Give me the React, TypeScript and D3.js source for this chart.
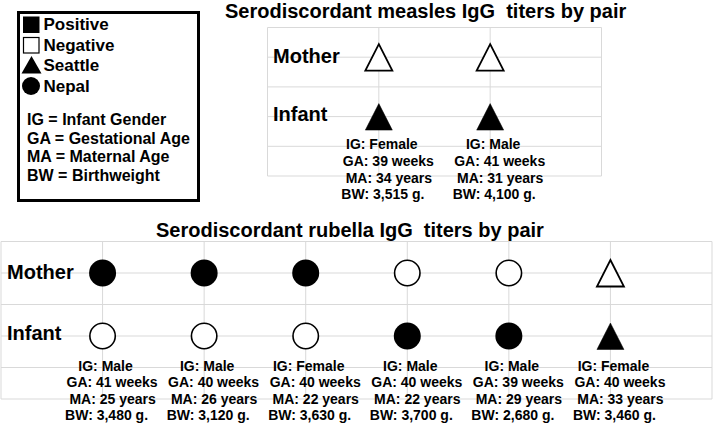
import React from "react";
import * as d3 from "d3";

const rowLabels = ["Mother", "Infant"];

const measlesSite = ["Seattle", "Seattle"];
const measlesMother = ["Negative", "Negative"];
const measlesInfant = ["Positive", "Positive"];
const measlesGender = ["Female", "Male"];
const measlesGA = [39, 41];
const measlesMA = [34, 31];
const measlesBW = ["3,515", "4,100"];

const rubellaSite = ["Nepal", "Nepal", "Nepal", "Nepal", "Nepal", "Seattle"];
const rubellaMother = ["Positive", "Positive", "Positive", "Negative", "Negative", "Negative"];
const rubellaInfant = ["Negative", "Negative", "Negative", "Positive", "Positive", "Positive"];
const rubellaGender = ["Male", "Male", "Female", "Male", "Male", "Female"];
const rubellaGA = [41, 40, 40, 40, 39, 40];
const rubellaMA = [25, 26, 22, 22, 29, 33];
const rubellaBW = ["3,480", "3,120", "3,630", "3,700", "2,680", "3,460"];

const legendSymbols = ["Positive", "Negative", "Seattle", "Nepal"];
const legendAbbrev = ["IG = Infant Gender", "GA = Gestational Age", "MA = Maternal Age", "BW = Birthweight"];

const FONT = "'Liberation Sans', Arial, Helvetica, sans-serif";
const GRID = "#d9d9d9";

function Marker({ site, status, cx, cy }: { site: string; status: string; cx: number; cy: number }) {
  const filled = status === "Positive";
  if (site === "Seattle") {
    const p = d3.path();
    p.moveTo(cx, cy - 13);
    p.lineTo(cx + 13.5, cy + 13.5);
    p.lineTo(cx - 13.5, cy + 13.5);
    p.closePath();
    return (
      <path
        d={p.toString()}
        fill={filled ? "#000" : "#fff"}
        stroke="#000"
        strokeWidth={filled ? 0.5 : 1.8}
        strokeLinejoin="miter"
      />
    );
  }
  return filled ? (
    <circle cx={cx} cy={cy} r={13.5} fill="#000" />
  ) : (
    <circle cx={cx} cy={cy} r={12.7} fill="#fff" stroke="#000" strokeWidth={1.6} />
  );
}

type PanelProps = {
  title: string;
  titleX: number;
  titleY: number;
  left: number;
  right: number;
  top: number;
  bottom: number;
  labelX: number;
  site: string[];
  mother: string[];
  infant: string[];
  gender: string[];
  ga: number[];
  ma: number[];
  bw: string[];
};

const lineOffsets = [3, 9.5, 10, 4];
const rowLabelOffsets = [6, 4];

function Panel(props: PanelProps) {
  const n = props.site.length;
  const x = d3.scaleLinear().domain([0, n + 1]).range([props.left, props.right]);
  const y = d3.scaleLinear().domain([0, 5]).range([props.top, props.bottom]);
  const rowPos = [1, 3];
  const lineGap = 16.6;
  return (
    <g>
      <text x={props.titleX} y={props.titleY} fontFamily={FONT} fontWeight="bold" fontSize={20} fill="#000" style={{ whiteSpace: "pre" }}>
        {props.title}
      </text>
      {d3.range(0, 6).map((i) => (
        <line key={"h" + i} x1={x(0)} x2={x(n + 1)} y1={y(i)} y2={y(i)} stroke={GRID} strokeWidth={1} />
      ))}
      {d3.range(0, n + 2).map((i) => (
        <line key={"v" + i} x1={x(i)} x2={x(i)} y1={y(0)} y2={y(5)} stroke={GRID} strokeWidth={1} />
      ))}
      {rowLabels.map((lab, i) => (
        <text key={lab} x={props.labelX} y={y(rowPos[i]) + rowLabelOffsets[i]} fontFamily={FONT} fontWeight="bold" fontSize={20} fill="#000">
          {lab}
        </text>
      ))}
      {props.site.map((s, i) => (
        <g key={"m" + i}>
          <Marker site={s} status={props.mother[i]} cx={x(i + 1)} cy={y(rowPos[0])} />
          <Marker site={s} status={props.infant[i]} cx={x(i + 1)} cy={y(rowPos[1])} />
          {[
            `IG: ${props.gender[i]}`,
            `GA: ${props.ga[i]} weeks`,
            `MA: ${props.ma[i]} years`,
            `BW: ${props.bw[i]} g.`,
          ].map((t, k) => (
            <text
              key={k}
              x={x(i + 1) + lineOffsets[k]}
              y={y(4) + 3 + k * lineGap}
              textAnchor="middle"
              fontFamily={FONT}
              fontWeight="bold"
              fontSize={14}
              fill="#000"
            >
              {t}
            </text>
          ))}
        </g>
      ))}
    </g>
  );
}

function Legend() {
  const symBaselines = [30, 50.5, 71, 91.5];
  const abbrBaselines = [125, 143.5, 162, 180.5];
  return (
    <g>
      <rect x={18.5} y={12.5} width={180} height={188} fill="#fff" stroke="#000" strokeWidth={3} />
      {legendSymbols.map((lab, i) => {
        const cy = symBaselines[i] - 5.5;
        let sym;
        if (lab === "Positive") sym = <rect x={23} y={cy - 8} width={16.5} height={16.5} fill="#000" />;
        else if (lab === "Negative") sym = <rect x={23.5} y={cy - 7.5} width={15.5} height={15.5} fill="#fff" stroke="#000" strokeWidth={1.2} />;
        else if (lab === "Seattle") {
          const p = d3.path();
          p.moveTo(31.5, cy - 9.5);
          p.lineTo(41.5, cy + 8);
          p.lineTo(21.5, cy + 8);
          p.closePath();
          sym = <path d={p.toString()} fill="#000" />;
        } else sym = <circle cx={31} cy={cy} r={9} fill="#000" />;
        return (
          <g key={lab}>
            {sym}
            <text x={43.5} y={symBaselines[i]} fontFamily={FONT} fontWeight="bold" fontSize={17} fill="#000">
              {lab}
            </text>
          </g>
        );
      })}
      {legendAbbrev.map((t, i) => (
        <text key={t} x={27} y={abbrBaselines[i]} fontFamily={FONT} fontWeight="bold" fontSize={16} fill="#000">
          {t}
        </text>
      ))}
    </g>
  );
}

export default function App() {
  return (
    <svg
      width={714}
      height={425}
      viewBox="0 0 714 425"
      style={{ position: "absolute", left: 0, top: 0, background: "#fff" }}
    >
      <rect x={0} y={0} width={714} height={425} fill="#fff" />
      <Panel
        title={"Serodiscordant measles IgG  titers by pair"}
        titleX={225}
        titleY={17.5}
        left={267.5}
        right={601.5}
        top={27.5}
        bottom={176}
        labelX={273}
        site={measlesSite}
        mother={measlesMother}
        infant={measlesInfant}
        gender={measlesGender}
        ga={measlesGA}
        ma={measlesMA}
        bw={measlesBW}
      />
      <Panel
        title={"Serodiscordant rubella IgG  titers by pair"}
        titleX={156}
        titleY={237}
        left={1}
        right={712}
        top={241.5}
        bottom={399}
        labelX={7}
        site={rubellaSite}
        mother={rubellaMother}
        infant={rubellaInfant}
        gender={rubellaGender}
        ga={rubellaGA}
        ma={rubellaMA}
        bw={rubellaBW}
      />
      <Legend />
    </svg>
  );
}
